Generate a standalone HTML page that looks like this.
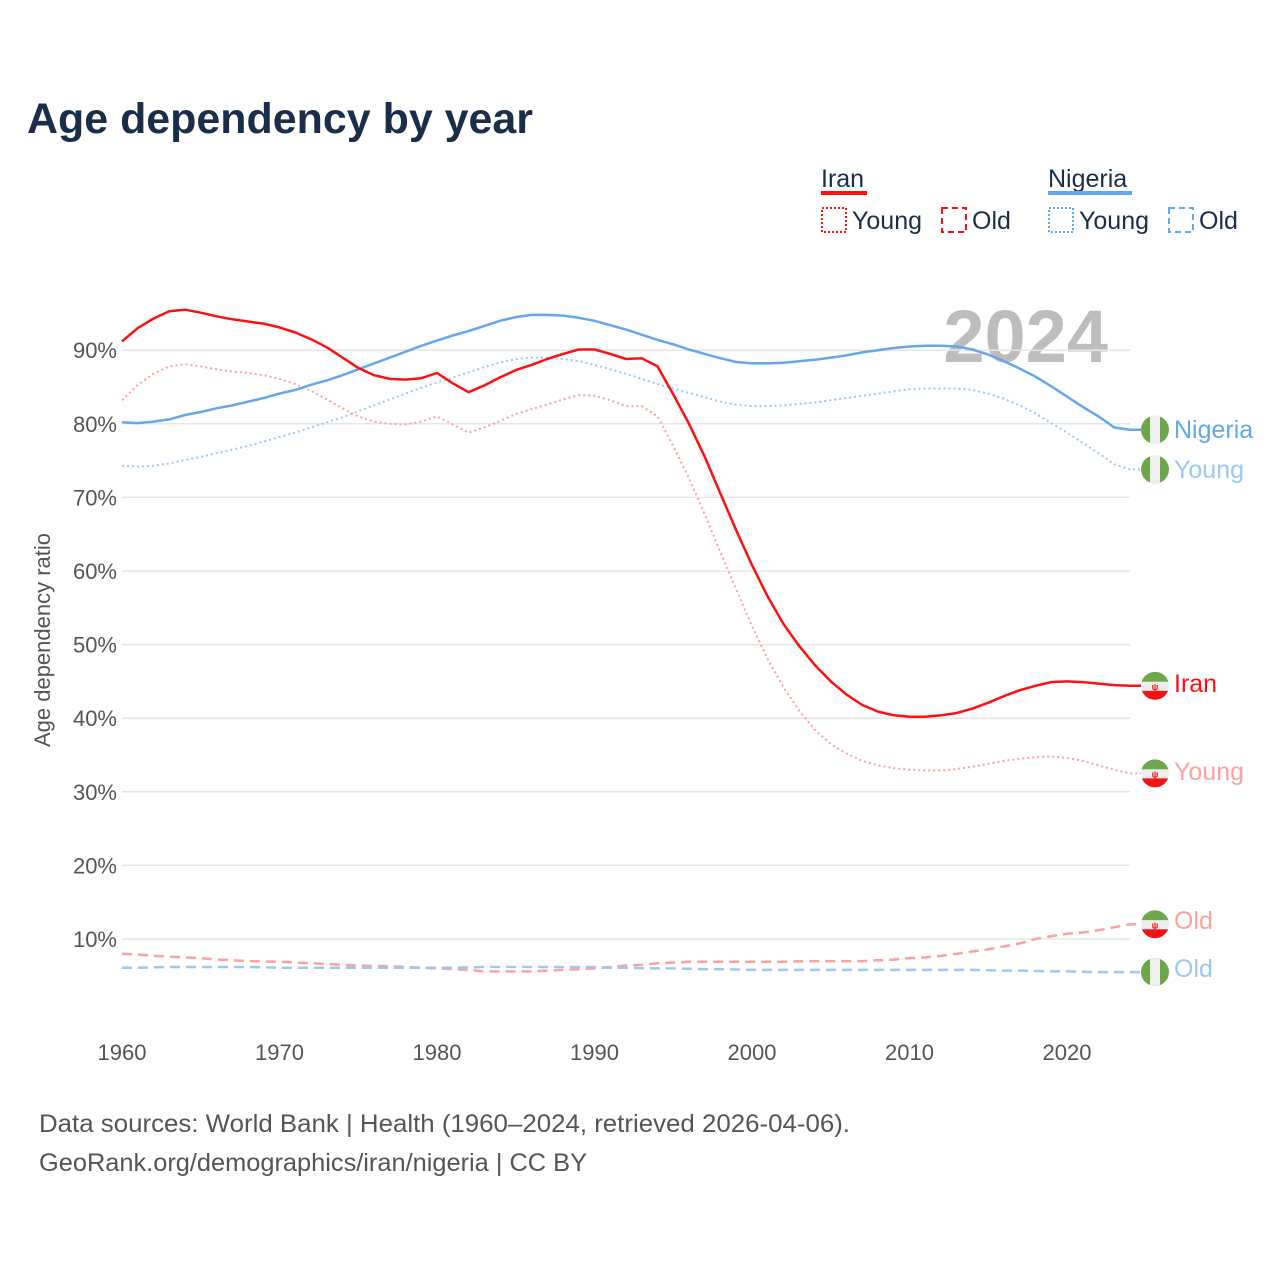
<!DOCTYPE html>
<html><head><meta charset="utf-8">
<style>
body{margin:0;background:#fff;}
svg{display:block;font-family:"Liberation Sans",sans-serif;}
</style></head>
<body>
<svg id="chart" width="1280" height="1280" viewBox="0 0 1280 1280">
<text x="27" y="133" font-size="43" font-weight="bold" fill="#1a2e4a" textLength="506" lengthAdjust="spacingAndGlyphs">Age dependency by year</text>
<g>
<text x="821" y="187" font-size="25" fill="#1a2e4a">Iran</text>
<rect x="821" y="191" width="46" height="4" fill="#ff1010"/>
<rect x="822" y="208" width="24" height="24" fill="none" stroke="#ff1010" stroke-width="2" stroke-dasharray="2,2"/>
<text x="852" y="229" font-size="25" fill="#1a2e4a">Young</text>
<rect x="942" y="208" width="24" height="24" fill="none" stroke="#ff1010" stroke-width="2" stroke-dasharray="6,4"/>
<text x="972" y="229" font-size="25" fill="#1a2e4a">Old</text>
<text x="1048" y="187" font-size="25" fill="#1a2e4a">Nigeria</text>
<rect x="1048" y="191" width="84" height="4" fill="#62a8ea"/>
<rect x="1049" y="208" width="24" height="24" fill="none" stroke="#62a8ea" stroke-width="2" stroke-dasharray="2,2"/>
<text x="1079" y="229" font-size="25" fill="#1a2e4a">Young</text>
<rect x="1169" y="208" width="24" height="24" fill="none" stroke="#62a8ea" stroke-width="2" stroke-dasharray="6,4"/>
<text x="1199" y="229" font-size="25" fill="#1a2e4a">Old</text>
</g>
<text x="1108" y="362" font-size="74" font-weight="bold" fill="#bdbdbd" text-anchor="end">2024</text>
<text transform="translate(50,640) rotate(-90)" font-size="22" fill="#555" text-anchor="middle">Age dependency ratio</text>
<g id="grid"></g><g id="series"></g><g id="labels"></g>
<text x="39" y="1132" font-size="25" fill="#555" textLength="811" lengthAdjust="spacingAndGlyphs">Data sources: World Bank | Health (1960–2024, retrieved 2026-04-06).</text>
<text x="39" y="1171" font-size="25" fill="#555" textLength="548" lengthAdjust="spacingAndGlyphs">GeoRank.org/demographics/iran/nigeria | CC BY</text>
</svg>
<script>
const years=[];for(let y=1960;y<=2024;y++)years.push(y);
const yTicks=[10,20,30,40,50,60,70,80,90];
const xTicks=[1960,1970,1980,1990,2000,2010,2020];
const iranTotal=[91.2,93,94.3,95.3,95.5,95.1,94.6,94.2,93.9,93.6,93.1,92.4,91.5,90.4,89,87.6,86.6,86.1,86,86.2,86.9,85.5,84.3,85.2,86.3,87.3,88,88.8,89.5,90.1,90.1,89.5,88.8,88.9,87.8,84,80,75.5,70.5,65.5,60.8,56.5,52.8,49.8,47.2,45,43.2,41.8,40.9,40.4,40.2,40.2,40.4,40.7,41.3,42.1,43,43.8,44.4,44.9,45,44.9,44.7,44.5,44.4];
const iranYoung=[83.2,85.3,86.8,87.8,88.1,87.8,87.4,87.1,86.9,86.6,86.1,85.4,84.5,83.3,82.1,81,80.3,80,79.9,80.3,81,79.9,78.8,79.5,80.4,81.3,82,82.6,83.3,83.9,83.8,83.2,82.4,82.4,81,77,72.6,67.7,62.5,57.5,52.5,48,44.2,41,38.4,36.5,35.2,34.2,33.6,33.2,33,32.9,32.9,33.1,33.4,33.8,34.2,34.5,34.7,34.8,34.6,34.2,33.6,33,32.5];
const iranOld=[8,7.9,7.7,7.6,7.5,7.4,7.2,7.1,7,6.95,6.9,6.8,6.7,6.6,6.5,6.4,6.35,6.3,6.2,6.1,6,5.9,5.8,5.6,5.6,5.6,5.6,5.7,5.8,5.9,6,6.2,6.4,6.5,6.7,6.8,6.9,6.9,6.9,6.9,6.9,6.9,6.9,6.95,7,7,7,7,7.1,7.2,7.4,7.5,7.7,8,8.3,8.6,9,9.4,10,10.4,10.7,10.9,11.2,11.6,12];
const nigTotal=[80.2,80.1,80.3,80.6,81.2,81.6,82.1,82.5,83,83.5,84.1,84.6,85.3,85.9,86.6,87.4,88.2,89,89.8,90.6,91.3,92,92.6,93.3,94,94.5,94.8,94.8,94.7,94.4,94,93.4,92.8,92.1,91.4,90.8,90.1,89.5,88.9,88.4,88.2,88.2,88.3,88.5,88.7,89,89.3,89.7,90,90.3,90.5,90.6,90.6,90.5,90.1,89.4,88.5,87.5,86.4,85.1,83.7,82.3,81,79.5,79.2];
const nigYoung=[74.3,74.2,74.3,74.6,75.1,75.5,76,76.5,77,77.6,78.2,78.8,79.5,80.2,80.9,81.7,82.5,83.3,84.1,84.9,85.6,86.3,87,87.7,88.3,88.8,89,89,88.8,88.5,88,87.4,86.8,86.1,85.4,84.8,84.2,83.6,83,82.6,82.4,82.4,82.5,82.7,82.9,83.2,83.5,83.8,84.1,84.4,84.7,84.8,84.8,84.8,84.6,84.1,83.4,82.5,81.4,80.1,78.8,77.4,76,74.5,73.8];
const nigOld=[6.1,6.1,6.15,6.2,6.2,6.2,6.2,6.2,6.2,6.15,6.1,6.1,6.1,6.1,6.1,6.1,6.1,6.1,6.1,6.1,6.1,6.1,6.15,6.2,6.2,6.2,6.2,6.2,6.2,6.2,6.2,6.1,6.1,6.05,6,6,5.95,5.9,5.9,5.85,5.8,5.8,5.8,5.8,5.8,5.8,5.8,5.8,5.8,5.8,5.8,5.8,5.8,5.8,5.8,5.75,5.7,5.7,5.65,5.6,5.6,5.55,5.5,5.5,5.5];
const X=v=>122+(v-1960)*15.75;
const Y=v=>1012.6-v*7.36;
const NS="http://www.w3.org/2000/svg";
function mk(tag,attrs,parent){const e=document.createElementNS(NS,tag);for(const k in attrs)e.setAttribute(k,attrs[k]);parent.appendChild(e);return e;}
const grid=document.getElementById('grid');
yTicks.forEach(t=>{
 const l=mk('line',{x1:122,x2:1130,y1:Y(t),y2:Y(t),stroke:'#e6e6e6','stroke-width':1.5},grid);
 
 
 const tx=mk('text',{x:117,y:Y(t)+8,'font-size':22,fill:'#555','text-anchor':'end'},grid);
 tx.textContent=t+'%';
 
 
});
xTicks.forEach(t=>{
 const tx=mk('text',{x:X(t),y:1060,'font-size':22,fill:'#555','text-anchor':'middle'},grid);
 tx.textContent=t;
 
 
});
const S=document.getElementById('series');
const L=document.getElementById('labels');
function flag(cy,kind,name){
 const g=mk('g',{},L);
 
 
 const id='c'+Math.round(cy);
 const cp=mk('clipPath',{id:id},g);mk('circle',{cx:1155,cy:cy,r:14},cp);
 const inner=mk('g',{'clip-path':'url(#'+id+')'},g);
 if(kind==='ng'){
  mk('rect',{x:1141,y:cy-14,width:28,height:28,fill:'#6ea64c'},inner);
  mk('rect',{x:1150,y:cy-14,width:10,height:28,fill:'#eee'},inner);
 } else {
  mk('rect',{x:1141,y:cy-14,width:28,height:10,fill:'#6ea64c'},inner);
  mk('rect',{x:1141,y:cy-4,width:28,height:9,fill:'#eee'},inner);
  mk('rect',{x:1141,y:cy+5,width:28,height:10,fill:'#f01515'},inner);
  mk('text',{x:1155,y:cy+4,'font-size':9,fill:'#f01515','text-anchor':'middle','font-weight':'bold'},inner).textContent='ψ';
 }
}
function series(data,color,dash,width,name,label,labelY,kind){
 const d=data.map((v,i)=>(i?'L':'M')+X(years[i]).toFixed(1)+','+Y(v).toFixed(1)).join(' ');
 const p=mk('path',{d:d+' L1141,'+Y(data[data.length-1]).toFixed(1),fill:'none',stroke:color,'stroke-width':width,'stroke-dasharray':dash,'stroke-linejoin':'round'},S);
 
 
 const cy=Y(data[data.length-1]);
 flag(cy,kind,name+'-flag');
 const t=mk('text',{x:1174,y:labelY+8,'font-size':25,fill:color},L);
 t.textContent=label;
 
 
}
series(iranOld,'#ffa0a0','10,6',2.5,'iran-old-line','Old',921,'ir');
series(nigOld,'#9cc8f2','10,6',2.5,'nigeria-old-line','Old',969,'ng');
series(iranYoung,'#ffa0a0','2,3',2,'iran-young-line','Young',772,'ir');
series(nigYoung,'#9cc8f2','2,3',2,'nigeria-young-line','Young',470,'ng');
series(nigTotal,'#62a8ea','',2.5,'nigeria-total-line','Nigeria',430,'ng');
series(iranTotal,'#ff1010','',2.5,'iran-total-line','Iran',684,'ir');
</script>
</body></html>
